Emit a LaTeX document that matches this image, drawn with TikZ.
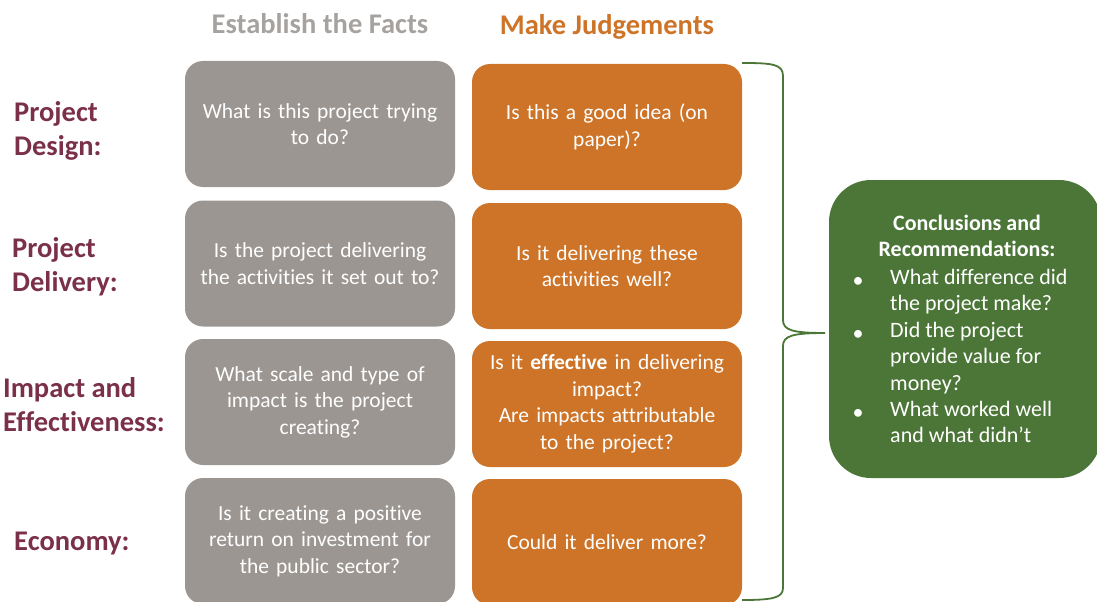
\documentclass[tikz,border=0pt]{standalone}
\usepackage{fontspec}
\setmainfont[Ligatures={NoCommon}]{Carlito}
\definecolor{factgray}{HTML}{9B9692}
\definecolor{headgray}{HTML}{A6A29F}
\definecolor{judgeorange}{HTML}{CD7428}
\definecolor{rowmaroon}{HTML}{7A3049}
\definecolor{concgreen}{HTML}{4B7637}
\begin{document}
\begin{tikzpicture}[x=1pt,y=1pt,
  cardbase/.style={rounded corners=18pt, minimum width=270pt, minimum height=126pt,
    text=white, align=center, text width=262pt, inner sep=0pt,
    font=\fontsize{21.5}{26.5}\selectfont},
  factbox/.style={cardbase, fill=factgray},
  judgebox/.style={cardbase, fill=judgeorange},
  rowlabel/.style={anchor=west, align=left, text=rowmaroon, inner sep=0pt,
    font=\fontsize{28.5}{34}\selectfont\bfseries},
  header/.style={inner sep=0pt, font=\fontsize{28.5}{32}\selectfont\bfseries},
  conctext/.style={text=white, inner sep=0pt, font=\fontsize{22}{26.5}\selectfont},
  bracestyle/.style={draw=concgreen, line width=1.8pt}
]
\useasboundingbox (0,0) rectangle (1097,-602);

% headers
\node[header, text=headgray] (hfacts) at (320,-24) {Establish the Facts};
\node[header, text=judgeorange] (hjudge) at (607,-27) {Make Judgements};

% row labels
\node[rowlabel] (ldesign) at (14,-131) {Project\\Design:};
\node[rowlabel] (ldelivery) at (12,-267) {Project\\Delivery:};
\node[rowlabel] (limpact) at (3,-405) {Impact and\\Effectiveness:};
\node[rowlabel] (leconomy) at (14,-543) {Economy:};

% fact boxes
\node[factbox] (f1) at (320,-124) {What is this project trying\\to do?};
\node[factbox] (f2) at (320,-263.5) {Is the project delivering\\the activities it set out to?};
\node[factbox] (f3) at (320,-402) {What scale and type of\\impact is the project\\creating?};
\node[factbox] (f4) at (320,-541) {Is it creating a positive\\return on investment for\\the public sector?};

% judgement boxes
\node[judgebox] (j1) at (607,-127) {Is this a good idea (on\\paper)?};
\node[judgebox] (j2) at (607,-266) {Is it delivering these\\activities well?};
\node[judgebox] (j3) at (607,-404) {Is it \textbf{effective} in delivering\\impact?\\Are impacts attributable\\to the project?};
\node[judgebox] (j4) at (607,-542) {Could it deliver more?};

% conclusions box
\node[fill=concgreen, rounded corners=42pt, minimum width=272pt, minimum height=298pt, inner sep=0pt] (conc) at (965,-329) {};
\node[conctext, align=center, font=\fontsize{22}{26.5}\selectfont\bfseries] (ctitle) at (967,-236) {Conclusions and\\Recommendations:};
\node[conctext, anchor=center] (b1) at (858,-282) {•};
\node[conctext, anchor=center] (b2) at (858,-335) {•};
\node[conctext, anchor=center] (b3) at (858,-414) {•};
\node[conctext, anchor=north west, align=left] (t1) at (890,-269) {What difference did\\the project make?};
\node[conctext, anchor=north west, align=left] (t2) at (890,-322) {Did the project\\provide value for\\money?};
\node[conctext, anchor=north west, align=left] (t3) at (890,-401) {What worked well\\and what didn’t};

% brace
\coordinate (btop) at (742,-63);
\coordinate (btip) at (825,-333);
\coordinate (bbot) at (742,-600);
\draw[bracestyle] (btop) .. controls (772,-63) and (783,-64) .. (783,-76)
  -- (783,-320) .. controls (783,-330) and (792,-333) .. (btip)
  .. controls (792,-333) and (783,-336) .. (783,-346)
  -- (783,-588) .. controls (783,-598) and (772,-600) .. (bbot);
\end{tikzpicture}
\end{document}
